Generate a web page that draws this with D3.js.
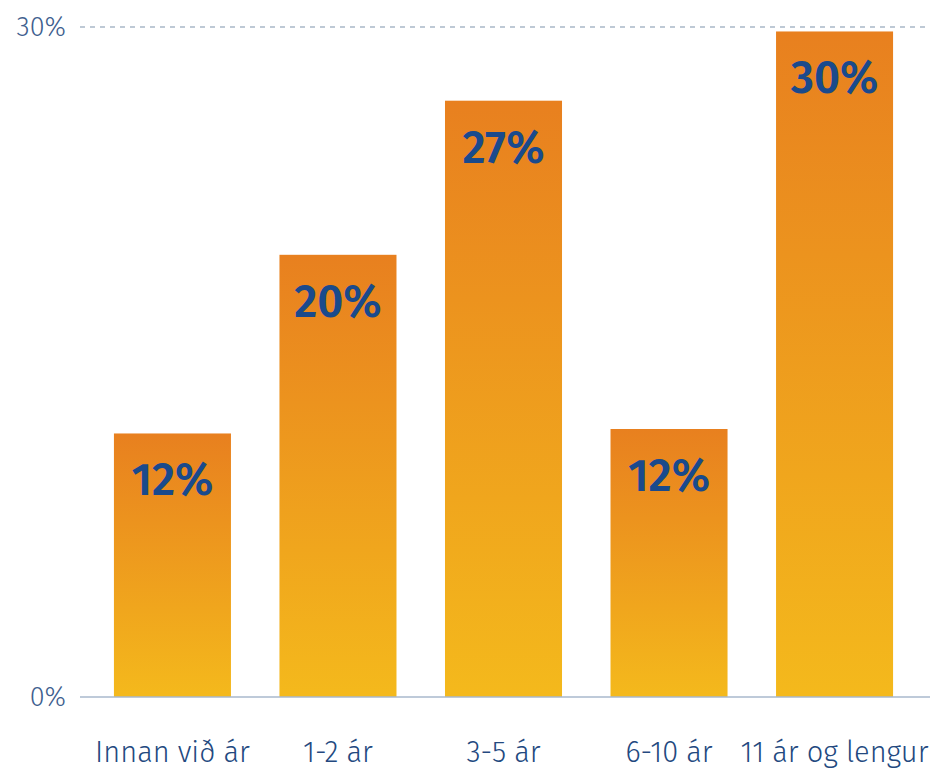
<!DOCTYPE html>
<html>
<head>
<meta charset="utf-8">
<script src="https://cdn.jsdelivr.net/npm/d3@7"></script>
<style>
  body { margin: 0; background: #fff; }
  svg { display: block; font-family: "Fira Sans", "Open Sans", "Noto Sans", sans-serif; }
</style>
</head>
<body>
<svg id="chart" width="937" height="769"></svg>
<script>
// categories and values
var categories = ['Innan við ár', '1-2 ár', '3-5 ár', '6-10 ár', '11 ár og lengur'];
var values = [11.8, 19.8, 26.7, 12.0, 29.8];
var valueLabels = ['12%', '20%', '27%', '12%', '30%'];
var yTicks = [0, 30];

var svg = d3.select('#chart');

var x = d3.scaleBand()
    .domain(categories)
    .range([80, 927])
    .paddingInner(0.293)
    .paddingOuter(0.205);

var y = d3.scaleLinear()
    .domain([0, 30])
    .range([697, 27]);

// gradient for bars (orange at top, yellow at bottom)
var defs = svg.append('defs');
var grad = defs.append('linearGradient')
    .attr('id', 'barGrad')
    .attr('x1', 0).attr('y1', 0).attr('x2', 0).attr('y2', 1);
grad.append('stop').attr('offset', '0%').attr('stop-color', '#e8801f');
grad.append('stop').attr('offset', '100%').attr('stop-color', '#f4b91c');

// dashed top gridline
svg.append('line')
    .attr('x1', 80).attr('x2', 930)
    .attr('y1', y(30)).attr('y2', y(30))
    .attr('stroke', '#a9b8c8')
    .attr('stroke-width', 1.3)
    .attr('stroke-dasharray', '5,5');

// bars
var data = categories.map(function(c, i) { return { cat: c, val: values[i], lbl: valueLabels[i] }; });

svg.selectAll('rect.bar')
    .data(data)
    .enter().append('rect')
    .attr('class', 'bar')
    .attr('x', function(d) { return x(d.cat); })
    .attr('y', function(d) { return y(d.val); })
    .attr('width', x.bandwidth())
    .attr('height', function(d) { return y(0) - y(d.val); })
    .attr('fill', 'url(#barGrad)');

// zero line
svg.append('line')
    .attr('x1', 80).attr('x2', 930)
    .attr('y1', y(0)).attr('y2', y(0))
    .attr('stroke', '#a9b9cc')
    .attr('stroke-width', 1.5);

// value labels inside bars
svg.selectAll('text.val')
    .data(data)
    .enter().append('text')
    .attr('class', 'val')
    .attr('x', function(d) { return x(d.cat) + x.bandwidth() / 2; })
    .attr('y', function(d) { return y(d.val) + 62; })
    .attr('text-anchor', 'middle')
    .attr('font-size', 45)
    .attr('font-weight', 600)
    .attr('fill', '#1a4a8c')
    .text(function(d) { return d.lbl; });

// y tick labels
svg.selectAll('text.ytick')
    .data(yTicks)
    .enter().append('text')
    .attr('class', 'ytick')
    .attr('x', 66)
    .attr('y', function(d) { return y(d); })
    .attr('dy', '0.35em')
    .attr('text-anchor', 'end')
    .attr('font-size', 27)
    .attr('font-weight', 300)
    .attr('fill', '#3f5f8f')
    .text(function(d) { return d + '%'; });

// x axis labels
svg.selectAll('text.xlab')
    .data(categories)
    .enter().append('text')
    .attr('class', 'xlab')
    .attr('x', function(d) { return x(d) + x.bandwidth() / 2; })
    .attr('y', 762)
    .attr('text-anchor', 'middle')
    .attr('font-size', 29)
    .attr('font-weight', 300)
    .attr('fill', '#23497f')
    .text(function(d) { return d; });
</script>
</body>
</html>
